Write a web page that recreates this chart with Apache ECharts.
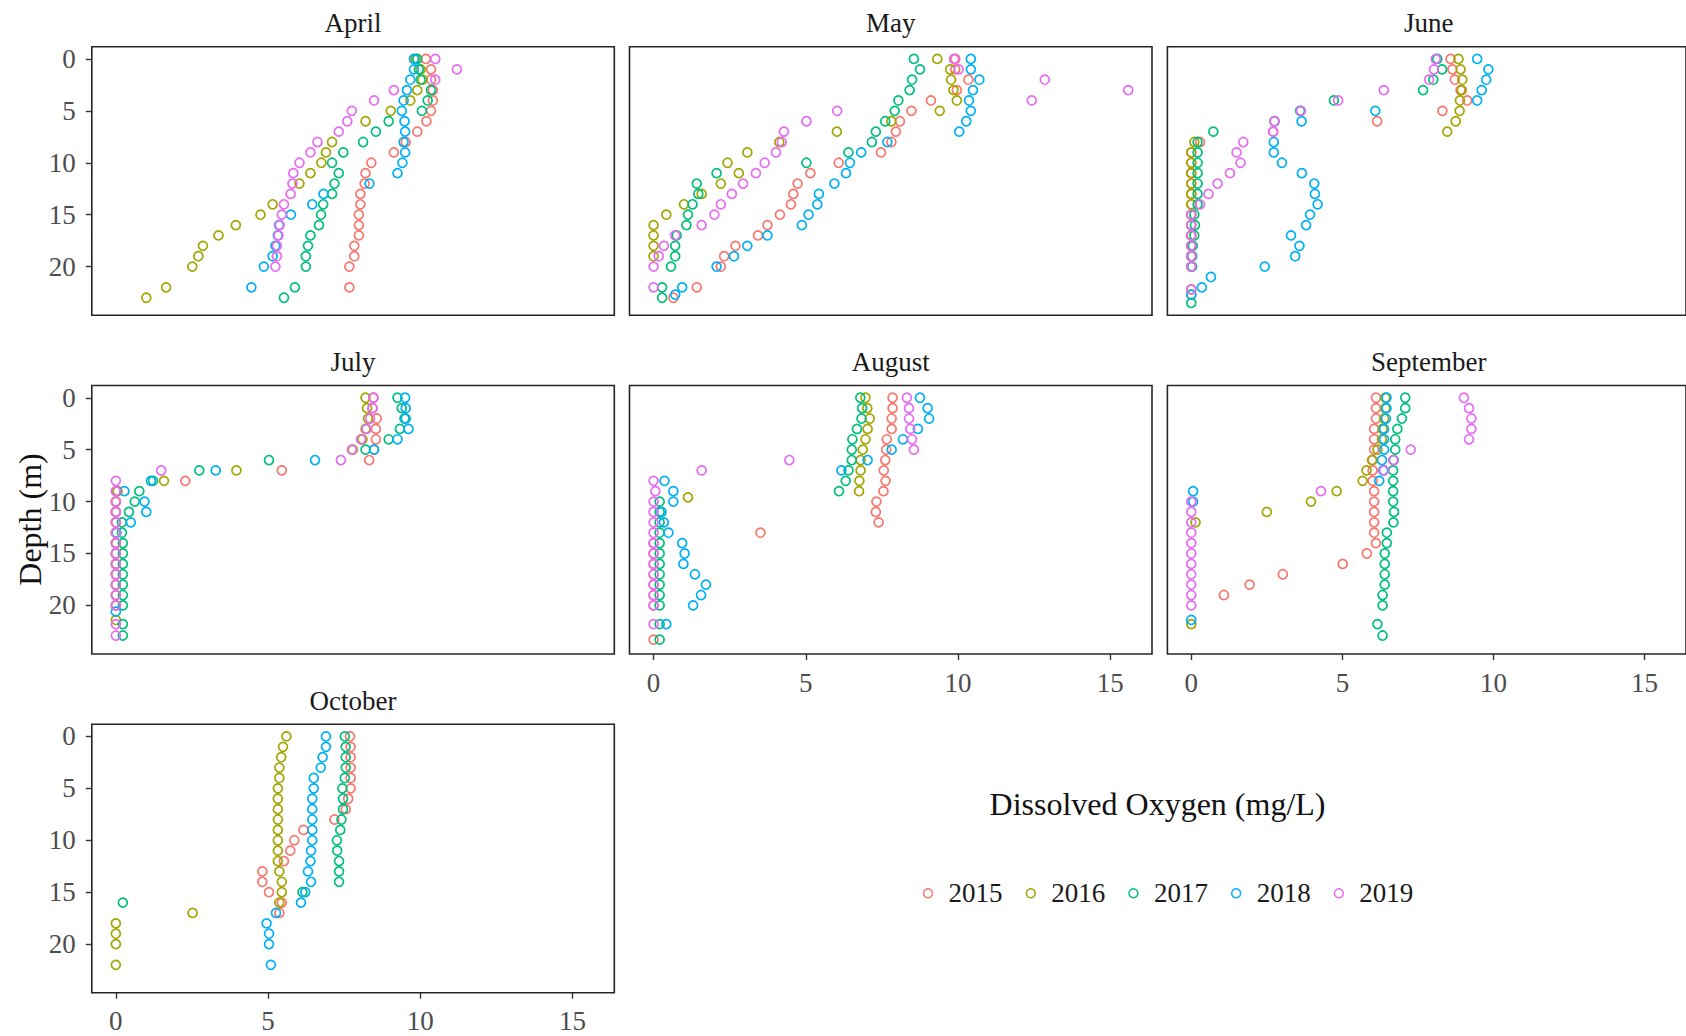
<!DOCTYPE html>
<html><head><meta charset="utf-8">
<script src="https://cdn.jsdelivr.net/npm/echarts@6/dist/echarts.min.js"></script>
<style>html,body{margin:0;padding:0;background:#fff;font-family:'Liberation Serif',serif}#c{width:1686px;height:1036px}</style>
</head><body><div id="c"></div>
<script>
// ---- categories / ticks ----
const months = ['April','May','June','July','August','September','October'];
const years = ['2015','2016','2017','2018','2019'];
const doTicks = [0,5,10,15];
const depthTicks = [0,5,10,15,20];
const xTitle = 'Dissolved Oxygen (mg/L)';
const yTitle = 'Depth (m)';

// ---- data: [dissolved oxygen (mg/L), depth (m)] ----
const apr2015 = [[10.18,0],[10.35,1],[10.35,2],[10.41,3],[10.41,4],[10.35,5],[10.2,6],[9.9,7],[9.52,8],[9.13,9],[8.39,10],[8.2,11],[8.17,12],[8.03,13],[8.03,14],[7.98,15],[7.98,16],[7.98,17],[7.83,18],[7.83,19],[7.67,20],[7.67,22]];
const apr2016 = [[9.84,0],[10.01,1],[10.07,2],[9.9,3],[9.67,4],[9.03,5],[8.2,6],[7.1,8],[6.9,9],[6.75,10],[6.39,11],[6.03,12],[5.15,14],[4.75,15],[3.94,16],[3.37,17],[2.86,18],[2.71,19],[2.51,20],[1.65,22],[1.0,23]];
const apr2017 = [[9.9,0],[9.95,1],[10.01,2],[10.35,3],[10.24,4],[10.05,5],[8.96,6],[8.54,7],[8.12,8],[7.47,9],[7.1,10],[7.32,11],[7.18,12],[7.1,13],[6.81,14],[6.74,15],[6.67,16],[6.39,17],[6.31,18],[6.24,19],[6.24,20],[5.88,22],[5.52,23]];
const apr2018 = [[9.79,0],[9.79,1],[9.67,2],[9.56,3],[9.45,4],[9.39,5],[9.48,6],[9.5,7],[9.45,8],[9.5,9],[9.41,10],[9.25,11],[8.33,12],[6.82,13],[6.45,14],[5.75,15],[5.36,16],[5.32,17],[5.24,18],[5.15,19],[4.86,20],[4.45,22]];
const apr2019 = [[10.49,0],[11.2,1],[10.49,2],[9.13,3],[8.48,4],[7.75,5],[7.6,6],[7.32,7],[6.62,8],[6.39,9],[6.03,10],[5.83,11],[5.8,12],[5.74,13],[5.52,14],[5.45,15],[5.38,16],[5.34,17],[5.29,18],[5.29,19],[5.24,20]];

const may2015 = [[9.91,0],[9.91,1],[10.34,2],[9.96,3],[9.11,4],[8.47,5],[8.09,6],[7.96,7],[7.81,8],[7.47,9],[6.08,10],[5.15,11],[4.73,12],[4.59,13],[4.51,14],[4.15,15],[3.74,16],[3.43,17],[2.69,18],[2.32,19],[2.21,20],[1.42,22],[0.65,23]];
const may2016 = [[9.32,0],[9.74,1],[9.77,2],[9.85,3],[9.96,4],[9.4,5],[7.81,6],[6.02,7],[4.13,8],[3.08,9],[2.43,10],[2.8,11],[2.21,12],[1.58,13],[1.0,14],[0.42,15],[0,16],[0,17],[0,18],[0,19]];
const may2017 = [[8.55,0],[8.75,1],[8.49,2],[8.41,3],[8.04,4],[7.92,5],[7.61,6],[7.3,7],[7.17,8],[6.4,9],[5.02,10],[2.07,11],[1.42,12],[1.47,13],[1.28,14],[1.13,15],[1.08,16],[0.76,17],[0.71,18],[0.71,19],[0.57,20],[0.28,22],[0.28,23]];
const may2018 = [[10.42,0],[10.42,1],[10.7,2],[10.49,3],[10.36,4],[10.42,5],[10.27,6],[10.04,7],[7.68,8],[6.82,9],[6.45,10],[6.32,11],[5.94,12],[5.43,13],[5.38,14],[5.09,15],[4.87,16],[3.74,17],[3.08,18],[2.64,19],[2.07,20],[0.94,22],[0.71,22.7]];
const may2019 = [[9.87,0],[10.02,1],[12.85,2],[15.59,3],[12.42,4],[6.03,5],[5.02,6],[4.28,7],[4.21,8],[4.02,9],[3.65,10],[3.36,11],[2.94,12],[2.57,13],[2.21,14],[2.0,15],[1.58,16],[0.71,17],[0.34,18],[0.17,19],[0,20],[0,22]];

const jun2015 = [[8.58,0],[8.64,1],[8.72,2],[8.91,3],[9.13,4],[8.31,5],[6.15,6],[2.71,7],[0.29,8],[0,9],[0,10],[0,11],[0,12],[0,13],[0,14],[0,15],[0,16],[0,17],[0,18],[0,19],[0,20],[0,22.7]];
const jun2016 = [[8.84,0],[8.91,1],[8.97,2],[8.95,3],[8.89,4],[8.88,5],[8.75,6],[8.47,7],[0.1,8],[0,9],[0,10],[0,11],[0,12],[0,13],[0,14],[0,15],[0,16],[0,17],[0,18],[0,19],[0,20],[0,22.2]];
const jun2017 = [[8.14,0],[8.3,1],[8.01,2],[7.67,3],[4.72,4],[3.6,5],[2.75,6],[0.73,7],[0.21,8],[0.21,9],[0.21,10],[0.21,11],[0.21,12],[0.21,13],[0.21,14],[0.1,15],[0.12,16],[0.1,17],[0.05,18],[0.03,19],[0.03,20],[0,23.5]];
const jun2018 = [[9.46,0],[9.83,1],[9.76,2],[9.61,3],[9.46,4],[6.09,5],[3.65,6],[2.73,8],[2.73,9],[3.0,10],[3.66,11],[4.07,12],[4.09,13],[4.18,14],[3.93,15],[3.8,16],[3.3,17],[3.58,18],[3.44,19],[2.43,20],[0.65,21],[0.35,22],[0,22.7]];
const jun2019 = [[8.09,0],[8.03,1],[7.87,2],[6.37,3],[4.86,4],[3.63,5],[2.76,6],[2.71,7],[1.72,8],[1.5,9],[1.63,10],[1.28,11],[0.87,12],[0.57,13],[0.29,14],[0,15],[0,16],[0,17],[0,18],[0,19],[0,20],[0,22.2]];

const jul2015 = [[8.46,0],[8.43,1],[8.57,2],[8.54,3],[8.54,4],[8.48,5],[8.32,6],[5.45,7],[2.28,8],[0.05,9],[0,10],[0,11],[0,12],[0,13],[0,14],[0,15],[0,16],[0,17],[0,18],[0,19],[0,20]];
const jul2016 = [[8.2,0],[8.25,1],[8.28,2],[8.2,3],[8.1,4],[7.78,5],[3.96,7],[1.58,8],[0.05,9],[0,10],[0,11],[0,12],[0,13],[0,14],[0,15],[0,16],[0,17],[0,18],[0,19],[0,20],[0,21.4]];
const jul2017 = [[9.25,0],[9.39,1],[9.48,2],[9.33,3],[8.96,4],[8.2,5],[5.03,6],[2.74,7],[1.22,8],[0.77,9],[0.62,10],[0.43,11],[0.2,12],[0.2,13],[0.23,14],[0.23,15],[0.23,16],[0.23,17],[0.23,18],[0.23,19],[0.23,20],[0.23,21.8],[0.23,22.9]];
const jul2018 = [[9.5,0],[9.52,1],[9.52,2],[9.61,3],[9.25,4],[8.48,5],[6.54,6],[3.28,7],[1.15,8],[0.28,9],[0.94,10],[1.0,11],[0.49,12],[0.02,13],[0,20.6]];
const jul2019 = [[8.46,0],[8.43,1],[8.35,2],[8.23,3],[8.05,4],[7.75,5],[7.39,6],[1.49,7],[0,8],[0,9],[0,10],[0,11],[0,12],[0,13],[0,14],[0,15],[0,16],[0,17],[0,18],[0,19],[0,20],[0,21.8],[0,22.9]];

const aug2015 = [[7.85,0],[7.85,1],[7.82,2],[7.82,3],[7.66,4],[7.64,5],[7.61,6],[7.56,7],[7.62,8],[7.55,9],[7.32,10],[7.3,11],[7.39,12],[3.51,13],[0,14],[0,15],[0,16],[0,17],[0,18],[0,19],[0,20],[0,23.3]];
const aug2016 = [[6.96,0],[7.02,1],[7.1,2],[7.03,3],[6.96,4],[6.87,5],[6.8,6],[6.8,7],[6.76,8],[6.75,9],[1.13,9.6]];
const aug2017 = [[6.79,0],[6.85,1],[6.83,2],[6.68,3],[6.53,4],[6.51,5],[6.51,6],[6.4,7],[6.31,8],[6.09,9],[0.2,10],[0.2,11],[0.2,12],[0.2,13],[0.2,14],[0.2,15],[0.2,16],[0.2,17],[0.2,18],[0.2,19],[0.2,20],[0.2,21.8],[0.2,23.3]];
const aug2018 = [[8.75,0],[9.0,1],[9.05,2],[8.68,3],[8.19,4],[7.82,5],[7.03,6],[6.17,7],[0.36,8],[0.65,9],[0.65,10],[0.26,11],[0.34,12],[0.49,13],[0.94,14],[1.02,15],[0.98,16],[1.36,17],[1.72,18],[1.56,19],[1.3,20],[0.42,21.8]];
const aug2019 = [[8.32,0],[8.39,1],[8.39,2],[8.43,3],[8.49,4],[8.55,5],[4.46,6],[1.58,7],[0,8],[0.06,9],[0,10],[0,11],[0,12],[0,13],[0,14],[0,15],[0,16],[0,17],[0,18],[0,19],[0,20],[0,21.8]];

const sep2015 = [[6.11,0],[6.11,1],[6.11,2],[6.05,3],[6.05,4],[6.05,5],[6.0,6],[6.0,7],[6.0,8],[6.05,9],[6.05,10],[6.05,11],[6.05,12],[6.05,13],[6.11,14],[5.81,15],[5.01,16],[3.03,17],[1.93,18],[1.08,19]];
const sep2016 = [[6.42,0],[6.42,1],[6.38,2],[6.33,3],[6.31,4],[6.16,5],[5.98,6],[5.8,7],[5.67,8],[4.81,9],[3.96,10],[2.5,11],[0.14,12],[0,21.8]];
const sep2017 = [[7.08,0],[7.08,1],[6.97,2],[6.82,3],[6.75,4],[6.75,5],[6.7,6],[6.68,7],[6.68,8],[6.68,9],[6.68,10],[6.71,11],[6.69,12],[6.47,13],[6.47,14],[6.4,15],[6.4,16],[6.4,17],[6.4,18],[6.33,19],[6.33,20],[6.16,21.8],[6.33,22.9]];
const sep2018 = [[6.46,0],[6.46,1],[6.44,2],[6.38,3],[6.38,4],[6.38,5],[6.31,6],[6.35,7],[6.22,8],[0.06,9],[0.06,10],[0,21.4]];
const sep2019 = [[9.02,0],[9.19,1],[9.27,2],[9.27,3],[9.19,4],[7.26,5],[6.68,6],[6.38,7],[4.29,9],[0,10],[0,11],[0,12],[0,13],[0,14],[0,15],[0,16],[0,17],[0,18],[0,19],[0,20]];

const oct2015 = [[7.69,0],[7.71,1],[7.71,2],[7.71,3],[7.71,4],[7.71,5],[7.63,6],[7.55,7],[7.18,8],[6.16,9],[5.86,10],[5.73,11],[5.52,12],[4.81,13],[4.81,14],[5.03,15],[5.45,16],[5.37,17]];
const oct2016 = [[5.6,0],[5.49,1],[5.43,2],[5.37,3],[5.37,4],[5.32,5],[5.32,6],[5.32,7],[5.32,8],[5.32,9],[5.32,10],[5.32,11],[5.32,12],[5.37,13],[5.45,14],[5.45,15],[5.37,16],[2.52,17],[0,18],[0,19],[0,20],[0,22]];
const oct2017 = [[7.52,0],[7.55,1],[7.55,2],[7.55,3],[7.52,4],[7.44,5],[7.46,6],[7.46,7],[7.41,8],[7.37,9],[7.26,10],[7.27,11],[7.33,12],[7.33,13],[7.33,14],[6.13,15],[0.23,16]];
const oct2018 = [[6.9,0],[6.9,1],[6.79,2],[6.73,3],[6.5,4],[6.5,5],[6.45,6],[6.45,7],[6.45,8],[6.45,9],[6.45,10],[6.41,11],[6.39,12],[6.31,13],[6.41,14],[6.22,15],[6.08,16],[5.26,17],[4.95,18],[5.03,19],[5.03,20],[5.09,22]];
const oct2019 = [];

const april = [apr2015, apr2016, apr2017, apr2018, apr2019];
const may = [may2015, may2016, may2017, may2018, may2019];
const june = [jun2015, jun2016, jun2017, jun2018, jun2019];
const july = [jul2015, jul2016, jul2017, jul2018, jul2019];
const august = [aug2015, aug2016, aug2017, aug2018, aug2019];
const september = [sep2015, sep2016, sep2017, sep2018, sep2019];
const october = [oct2015, oct2016, oct2017, oct2018, oct2019];
const panels = [april, may, june, july, august, september, october];

// ---- styling / layout ----
const colors = ['#F8766D','#A3A500','#00BF7D','#00B0F6','#E76BF3'];
const F = 'Liberation Serif';
const colLeft = [91.8, 629.5, 1167.4];
const rowTop = [46.7, 385.5, 724.2];
const W = 522.5, H = 268.5;
const xMin = -0.79, xMax = 16.37, yMin = -1.18, yMax = 24.68;

const lab = (show) => ({show: show, margin: 0, color: '#4d4d4d', fontFamily: F, fontSize: 27,
  fontWeight: 'normal', fontStyle: 'normal'});

const grids = [], xAxes = [], yAxes = [], series = [], graphics = [];
months.forEach((m, i) => {
  const r = Math.floor(i / 3), c = i % 3;
  grids.push({left: colLeft[c], top: rowTop[r], width: W, height: H, show: true,
    borderColor: '#262626', borderWidth: 1.6, backgroundColor: '#fff', containLabel: false});
  const showX = (i === 4 || i === 5 || i === 6);
  const showY = (c === 0);
  const xl = lab(showX); xl.customValues = doTicks; xl.margin = 15;
  const yl = lab(showY); yl.customValues = depthTicks; yl.margin = 16;
  xAxes.push({type: 'value', gridIndex: i, min: xMin, max: xMax, position: 'bottom',
    axisLine: {show: false, onZero: false}, splitLine: {show: false},
    axisTick: {show: showX, customValues: doTicks, length: 6, lineStyle: {color: '#333', width: 1.4}},
    axisLabel: xl});
  yAxes.push({type: 'value', gridIndex: i, min: yMin, max: yMax, inverse: true, position: 'left',
    axisLine: {show: false, onZero: false}, splitLine: {show: false},
    axisTick: {show: showY, customValues: depthTicks, length: 6, lineStyle: {color: '#333', width: 1.4}},
    axisLabel: yl});
  panels[i].forEach((arr, k) => {
    series.push({type: 'scatter', name: years[k], xAxisIndex: i, yAxisIndex: i, data: arr,
      symbol: 'circle', symbolSize: 9, silent: true, animation: false,
      itemStyle: {color: 'rgba(0,0,0,0)', borderColor: colors[k], borderWidth: 1.7, opacity: 1},
      emphasis: {disabled: true}});
  });
  graphics.push({type: 'text', x: colLeft[c] + W / 2, y: rowTop[r] - 23.4,
    style: {text: m, align: 'center', verticalAlign: 'middle', fill: '#1a1a1a', fontSize: 27, fontFamily: F}});
});
graphics.push({type: 'text', x: 1157.5, y: 804,
  style: {text: xTitle, align: 'center', verticalAlign: 'middle', fill: '#111', fontSize: 32, fontFamily: F}});
graphics.push({type: 'text', x: 30, y: 519.5, rotation: Math.PI / 2,
  style: {text: yTitle, align: 'center', verticalAlign: 'middle', fill: '#111', fontSize: 32, fontFamily: F}});

// one legend per year so each entry sits where the reference puts it
const legendCenters = [927.3, 1030, 1132.7, 1235.4, 1338.1];
const legends = years.map((y, k) => ({
  data: [{name: y, icon: 'circle',
    itemStyle: {color: 'rgba(0,0,0,0)', borderColor: colors[k], borderWidth: 1.5}}],
  left: legendCenters[k] - 4.5, top: 878.3, orient: 'horizontal', padding: 0,
  itemWidth: 9, itemHeight: 9, selectedMode: false,
  textStyle: {fontFamily: F, fontSize: 27, color: '#1a1a1a', lineHeight: 30, padding: [0, 0, 0, 11]}
}));

const chart = echarts.init(document.getElementById('c'), null, {renderer: 'svg', width: 1686, height: 1036});
chart.setOption({
  backgroundColor: '#fff',
  animation: false,
  textStyle: {fontFamily: F},
  grid: grids, xAxis: xAxes, yAxis: yAxes, series: series,
  legend: legends,
  graphic: graphics
});
</script></body></html>
